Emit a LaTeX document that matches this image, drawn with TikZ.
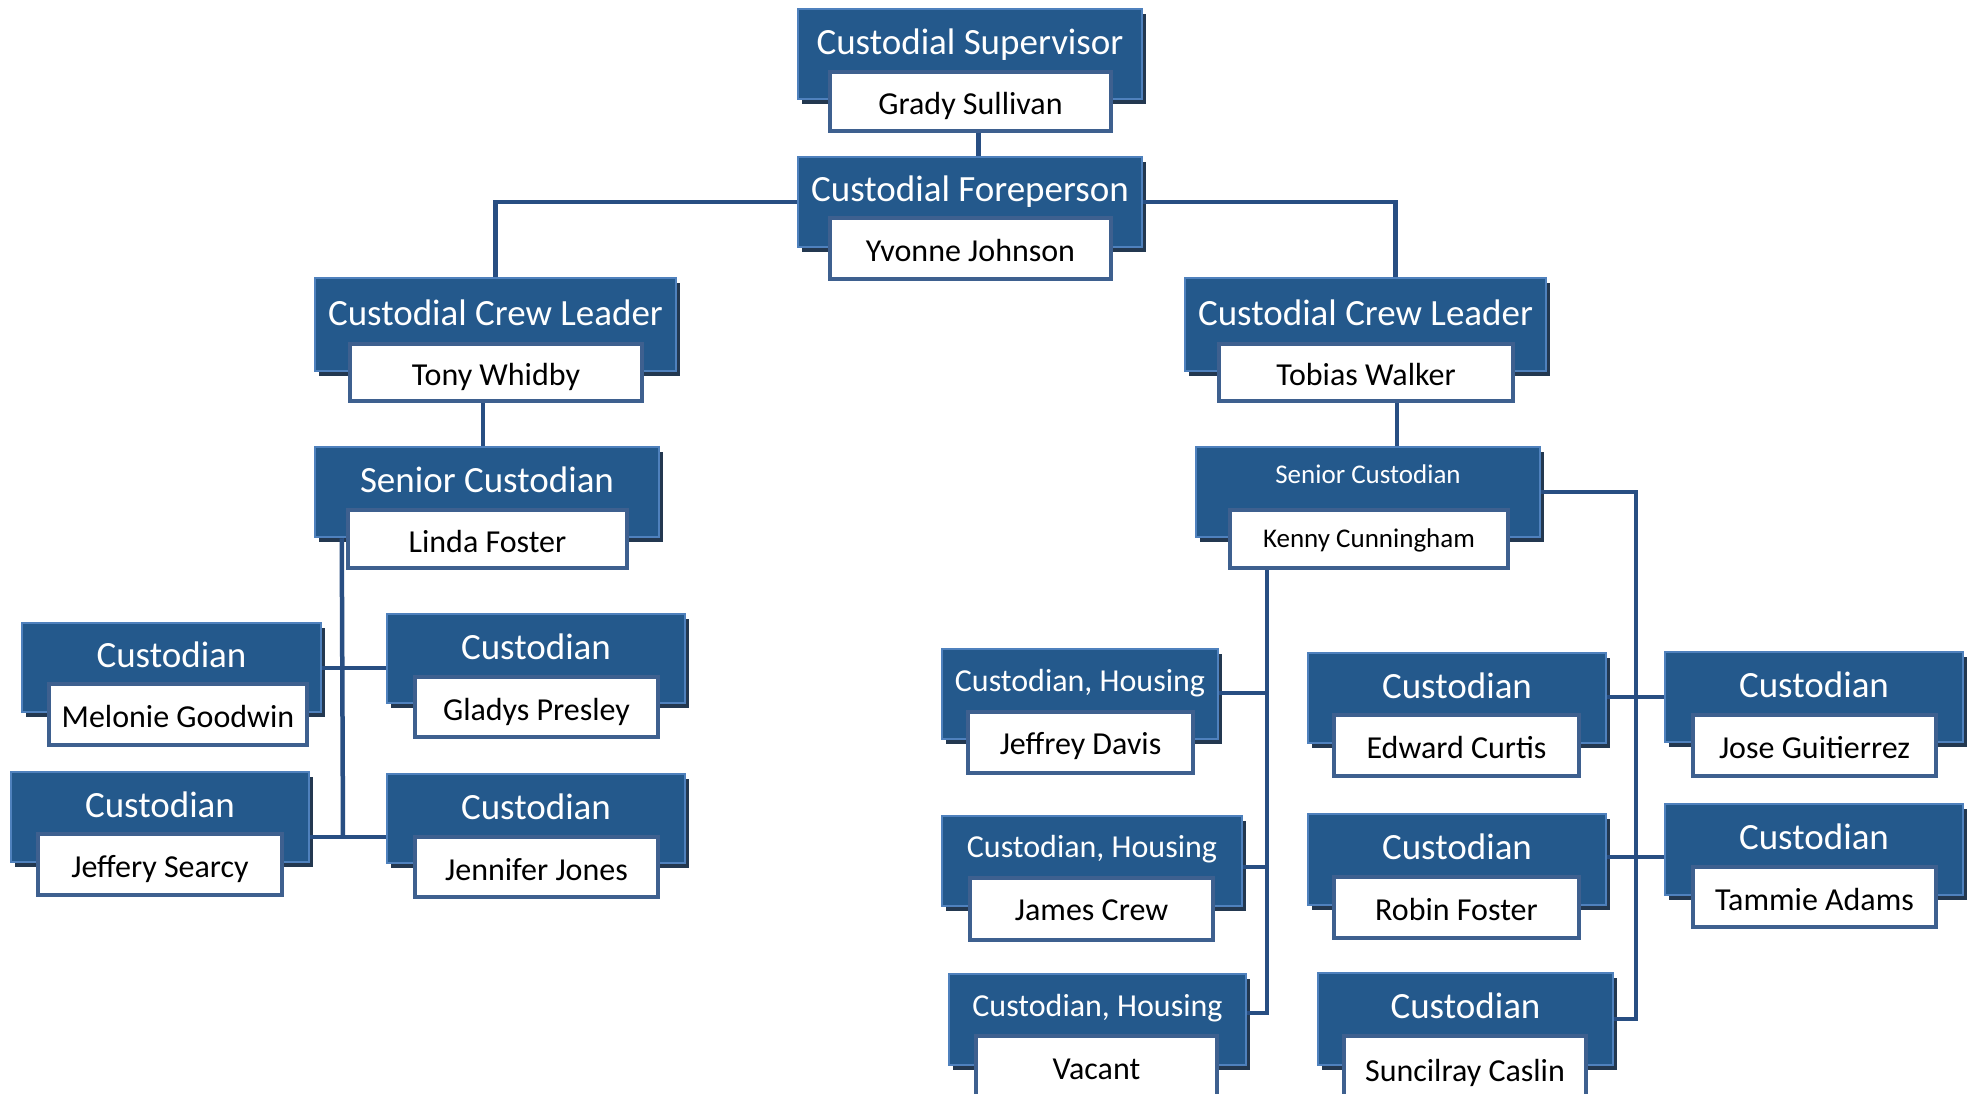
\documentclass[tikz,border=0pt]{standalone}
\usepackage{fontspec}
\setmainfont{Carlito}
\usetikzlibrary{fit,calc,shadows}
\definecolor{bfill}{HTML}{24598C}
\definecolor{bedge}{HTML}{4F81BD}
\definecolor{bshadow}{HTML}{233850}
\definecolor{wedge}{HTML}{3E608F}
\definecolor{lconn}{HTML}{284E82}
\tikzset{
 bluebox/.style={draw=bedge, line width=2.5pt, fill=bfill, inner sep=0pt,
   drop shadow={shadow xshift=4pt, shadow yshift=-5pt, fill=bshadow, opacity=1}},
 whitebox/.style={draw=wedge, line width=4.5pt, fill=white, inner sep=0pt},
 conn/.style={draw=lconn, line width=4.5pt},
 ttl/.style={text=white, anchor=base, inner sep=0pt},
 nm/.style={text=black, anchor=base, inner sep=0pt},
}
\def\tadj{4}
\def\nadj{2.5}
\newcommand\OrgUnit[9]{%
 \node[bluebox, fit={#2 #3}] (#1) {};
 \node[whitebox, fit={#4 #5}] (#1-n) {};
 \coordinate (#1-t) at ($(#1.north)!0.5!(#1.north |- #1-n.north)$);
 \node[ttl, font=\fontsize{#8}{#8}\selectfont] at ([yshift={-(0.32*#8+\tadj)*1pt}]#1-t) {#6};
 \node[nm, font=\fontsize{#9}{#9}\selectfont] at ([yshift={-(0.33*#9+\nadj)*1pt}]#1-n.center) {#7};
}
\begin{document}
\begin{tikzpicture}[x=1pt,y=-1pt]
\useasboundingbox (0,0) rectangle (1967,1094);
\clip (0,0) rectangle (1967,1094);
\fill[white] (0,0) rectangle (1967,1094);

\OrgUnit{sup}{(798,9)}{(1142,99)}{(830,72)}{(1111,131)}{Custodial Supervisor}{Grady Sullivan}{37}{32}
\OrgUnit{fore}{(798,157)}{(1142,247)}{(830,218)}{(1111,279)}{Custodial Foreperson}{Yvonne Johnson}{37}{32}
\OrgUnit{lcl}{(315,278)}{(676,371)}{(350,344)}{(642,401)}{Custodial Crew Leader}{Tony Whidby}{37}{32}
\OrgUnit{rcl}{(1185,278)}{(1546,371)}{(1219,344)}{(1513,401)}{Custodial Crew Leader}{Tobias Walker}{37}{32}
\OrgUnit{lsc}{(315,447)}{(659,537)}{(348,510)}{(627,568)}{Senior Custodian}{Linda Foster}{37}{32}
\def\tadj{-2}\def\nadj{0}
\OrgUnit{rsc}{(1196,447)}{(1540,537)}{(1230,510)}{(1508,568)}{Senior Custodian}{Kenny Cunningham}{27}{27}
\def\tadj{4}\def\nadj{2.5}

\OrgUnit{mel}{(22,623)}{(321,712)}{(49,684)}{(307,745)}{Custodian}{Melonie Goodwin}{37}{32}
\OrgUnit{gla}{(387,614)}{(685,703)}{(415,677)}{(658,737)}{Custodian}{Gladys Presley}{37}{32}
\OrgUnit{jef}{(11,772)}{(309,862)}{(38,834)}{(282,895)}{Custodian}{Jeffery Searcy}{37}{32}
\OrgUnit{jjo}{(387,774)}{(685,863)}{(415,837)}{(658,897)}{Custodian}{Jennifer Jones}{37}{32}

\def\tadj{2.5}\def\nadj{1}
\OrgUnit{jda}{(942,649)}{(1218,739)}{(968,712)}{(1193,773)}{Custodian, Housing}{Jeffrey Davis}{32}{32}
\OrgUnit{jcr}{(942,816)}{(1242,906)}{(970,878)}{(1213,940)}{Custodian, Housing}{James Crew}{32}{32}
\OrgUnit{vac}{(949,974)}{(1246,1065)}{(976,1036)}{(1217,1100)}{Custodian, Housing}{Vacant}{32}{32}
\def\tadj{4}\def\nadj{2.5}

\OrgUnit{edw}{(1308,653)}{(1606,743)}{(1334,715)}{(1579,776)}{Custodian}{Edward Curtis}{37}{32}
\OrgUnit{jos}{(1665,652)}{(1963,742)}{(1693,715)}{(1936,776)}{Custodian}{Jose Guitierrez}{37}{32}
\OrgUnit{rob}{(1308,814)}{(1606,905)}{(1334,877)}{(1579,938)}{Custodian}{Robin Foster}{37}{32}
\OrgUnit{tam}{(1665,804)}{(1963,895)}{(1693,867)}{(1936,927)}{Custodian}{Tammie Adams}{37}{32}
\OrgUnit{sun}{(1318,973)}{(1613,1065)}{(1344,1036)}{(1586,1100)}{Custodian}{Suncilray Caslin}{37}{32}

% connectors
\draw[conn] ([xshift=8pt]sup-n.south) -- ([xshift=8pt]sup-n.south |- fore.north);
\draw[conn] (fore.west) -| (lcl.north);
\draw[conn] (fore.east) -| ([xshift=30pt]rcl.north);
\draw[conn] ([xshift=-13pt]lcl-n.south) -- ([xshift=-13pt]lcl-n.south |- lsc.north);
\draw[conn] ([xshift=31pt]rcl-n.south) -- ([xshift=31pt]rcl-n.south |- rsc.north);

\coordinate (lv1) at (343,668);
\coordinate (lv2) at (343,837);
\draw[conn] ([xshift=28pt]lsc.south west) -- (lv2);
\draw[conn] (mel.east |- lv1) -- (gla.west |- lv1);
\draw[conn] (jef.east |- lv2) -- (jjo.west |- lv2);

\coordinate (rv) at (1267,1013);
\draw[conn] (rsc-n.south -| rv) -- (rv) -- (vac.east |- rv);
\draw[conn] (jda.east |- 0,693) -- (rv |- 0,693);
\draw[conn] (jcr.east |- 0,867) -- (rv |- 0,867);

\coordinate (rw) at (1636,1019);
\draw[conn] (rsc.east) -| (rw) -- (sun.east |- rw);
\draw[conn] (edw.east |- 0,697) -- (jos.west |- 0,697);
\draw[conn] (rob.east |- 0,857) -- (tam.west |- 0,857);
\end{tikzpicture}
\end{document}
